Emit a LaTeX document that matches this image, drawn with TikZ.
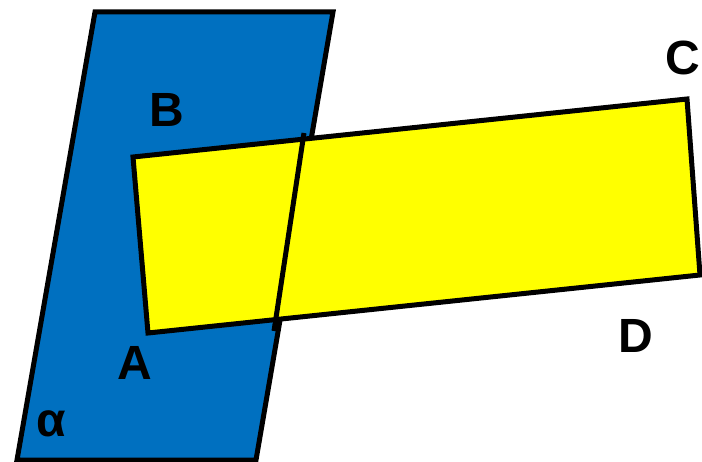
\documentclass[tikz,border=0pt]{standalone}
\usepackage{fontspec}
\setmainfont{Liberation Sans}
\definecolor{planeblue}{RGB}{0,112,192}
\definecolor{rectyellow}{RGB}{255,255,0}
\begin{document}
\begin{tikzpicture}[x=1pt,y=-1pt,
  edge/.style={draw=black,line width=5pt,line join=miter},
  lbl/.style={anchor=base,inner sep=0pt,font=\fontsize{48}{48}\selectfont\bfseries}]
\useasboundingbox (0,0) rectangle (702,462);
% plane alpha
\coordinate (P1) at (95,12);
\coordinate (P2) at (333,12);
\coordinate (P3) at (256,460);
\coordinate (P4) at (17,460);
\fill[planeblue] (P1) -- (P2) -- (P3) -- (P4) -- cycle;
\draw[edge] (P1) -- (P2) -- (P3) -- (P4) -- cycle;
% rectangle ABCD
\coordinate (QB) at (133,157);
\coordinate (QC) at (687,99);
\coordinate (QD) at (700,275);
\coordinate (QA) at (148,333);
\fill[rectyellow] (QB) -- (QC) -- (QD) -- (QA) -- cycle;
\draw[edge] (QB) -- (QC) -- (QD) -- (QA) -- cycle;
% crossing line
\coordinate (L1) at (304,133);
\coordinate (L2) at (274,331);
\draw[edge] (L1) -- (L2);
% labels
\node[lbl] (B) at (167,127) {B};
\node[lbl] (A) at (135,380) {A};
\node[lbl] (C) at (683,75) {C};
\node[lbl] (D) at (636,353) {D};
\node[lbl] (alpha) at (51,437) {α};
\end{tikzpicture}
\end{document}
